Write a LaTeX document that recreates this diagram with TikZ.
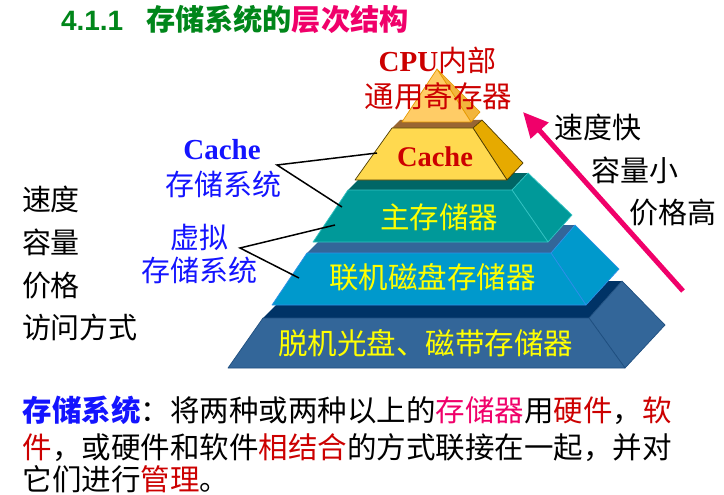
\documentclass[tikz,border=0pt]{standalone}
\usepackage{fontspec}
\newfontfamily\cjk{Noto Sans CJK SC}
\newfontfamily\tms{Liberation Serif}
\newfontfamily\arl{Liberation Sans}
\usetikzlibrary{arrows.meta}
\definecolor{tgreen}{HTML}{00861A}
\definecolor{tpink}{HTML}{F0006A}
\definecolor{tred}{HTML}{CC0000}
\definecolor{tblue}{HTML}{1414FF}
\definecolor{lyel}{HTML}{FFFF00}
\definecolor{lAfront}{HTML}{336699}
\definecolor{lAtop}{HTML}{003366}
\definecolor{lAedge}{HTML}{1F4F80}
\definecolor{lBfront}{HTML}{0099CC}
\definecolor{lBtop}{HTML}{336699}
\definecolor{lBedge}{HTML}{2E8FE8}
\definecolor{lCfront}{HTML}{009999}
\definecolor{lCtop}{HTML}{006666}
\definecolor{lCedge}{HTML}{33C2C2}
\definecolor{lDfront}{HTML}{FFD94F}
\definecolor{lDtop}{HTML}{996633}
\definecolor{lDside}{HTML}{E6AA00}
\definecolor{lDedge}{HTML}{4D3B00}
\definecolor{lEfront}{HTML}{FFCC66}
\definecolor{lEside}{HTML}{F2B53C}
\definecolor{lEedge}{HTML}{E69900}
\begin{document}
\begin{tikzpicture}[x=1pt,y=-1pt,
  txt/.style={inner sep=0pt,outer sep=0pt},
  cjkA/.style={txt,font=\cjk\fontsize{29}{30}\selectfont},
  laytext/.style={txt,anchor=base,text=lyel,font=\cjk\fontsize{29.5}{30}\selectfont},
  conn/.style={black,line width=1.5pt},
  edge/.style={line width=0.7pt,line join=round}]
\useasboundingbox (0,0) rectangle (724,495);
\fill[white] (0,0) rectangle (724,495);

% ---- layer 1 (bottom) ----
\fill[lAtop] (263,318) -- (589,318) -- (622,281) -- (300,281) -- cycle;
\filldraw[fill=lAfront,draw=lAedge,edge] (589,318) -- (622,281) -- (665,325) -- (625,368) -- cycle;
\filldraw[fill=lAfront,draw=lAedge,edge] (228,368) -- (625,368) -- (589,318) -- (263,318) -- cycle;
% ---- layer 2 ----
\fill[lBtop] (307,253) -- (551,253) -- (575,225) -- (335,225) -- cycle;
\filldraw[fill=lBfront,draw=lBedge,edge] (551,253) -- (575,225) -- (619,269) -- (586,305) -- cycle;
\filldraw[fill=lBfront,draw=lBedge,edge] (272,305) -- (586,305) -- (551,253) -- (307,253) -- cycle;
% ---- layer 3 ----
\fill[lCtop] (348,190) -- (512,190) -- (528,173) -- (365,173) -- cycle;
\filldraw[fill=lCfront,draw=lCedge,edge] (512,190) -- (528,173) -- (572,215) -- (548,242) -- cycle;
\filldraw[fill=lCfront,draw=lCedge,edge] (313,242) -- (548,242) -- (512,190) -- (348,190) -- cycle;
% ---- layer 4 ----
\fill[lDtop] (392,128) -- (473,128) -- (482,120) -- (400,120) -- cycle;
\filldraw[fill=lDside,draw=lDedge,edge] (473,128) -- (482,120) -- (523,163) -- (507,180) -- cycle;
\filldraw[fill=lDfront,draw=lDedge,edge] (355,180) -- (507,180) -- (473,128) -- (392,128) -- cycle;
% ---- layer 5 (top) ----
\filldraw[fill=lEside,draw=lEedge,edge] (437,69) -- (480,112) -- (471,122) -- cycle;
\filldraw[fill=lEfront,draw=lEedge,edge] (437,69) -- (402,122) -- (471,122) -- cycle;

% ---- layer texts ----
\node[laytext] (tA) at (425.5,354) {脱机光盘、磁带存储器};
\node[laytext] (tB) at (432.5,288) {联机磁盘存储器};
\node[laytext] (tC) at (439,228) {主存储器};
\node[txt,anchor=base,text=tred,font=\tms\bfseries\fontsize{28.5}{30}\selectfont] (tD) at (435,167) {Cache};
\node[txt,anchor=base,text=tred,font=\fontsize{29}{30}\selectfont] (tE) at (437.5,72) {{\tms\bfseries CPU}{\cjk 内部}};
\node[txt,anchor=base,text=tred,font=\cjk\fontsize{29.5}{30}\selectfont] (tF) at (438.5,107) {通用寄存器};

% ---- title ----
\node[txt,anchor=base west,text=tgreen,font=\arl\bfseries\fontsize{28}{30}\selectfont] (tnum) at (61,30.5) {4.1.1};
\node[txt,anchor=base west,font=\cjk\bfseries\fontsize{29.2}{30}\selectfont] (ttl) at (146,30.5) {\textcolor{tgreen}{存储系统的}\textcolor{tpink}{层次结构}};

% ---- left labels ----
\node[cjkA,anchor=base west] (lsd) at (22,211) {速度};
\node[cjkA,anchor=base west] (lrl) at (22,253) {容量};
\node[cjkA,anchor=base west] (ljg) at (22,296) {价格};
\node[cjkA,anchor=base west] (lfw) at (22,338) {访问方式};

\node[txt,anchor=base,text=tblue,font=\tms\bfseries\fontsize{29}{30}\selectfont] (bcache) at (222,160) {Cache};
\node[cjkA,anchor=base,text=tblue] (bcsys) at (223,196) {存储系统};
\node[cjkA,anchor=base,text=tblue] (bvir) at (199.5,248) {虚拟};
\node[cjkA,anchor=base,text=tblue] (bvsys) at (199,281) {存储系统};

% ---- connectors ----
\coordinate (cj) at (277,165);
\coordinate (cA) at (377,153);
\coordinate (cB) at (342,207);
\draw[conn] (cA) -- (cj) -- (cB);
\coordinate (vj) at (240,248);
\coordinate (vA) at (335,225);
\coordinate (vB) at (299,278);
\draw[conn] (vA) -- (vj) -- (vB);

% ---- right arrow and labels ----
\coordinate (as) at (683,291);
\coordinate (ae) at (523,112);
\draw[tpink,line width=5pt,-{Triangle[length=25pt,width=23pt]}] (as) -- (ae);
\node[cjkA,anchor=base] (rsd) at (597.5,139) {速度快};
\node[cjkA,anchor=base] (rrl) at (634.5,181) {容量小};
\node[cjkA,anchor=base] (rjg) at (672.5,223) {价格高};

% ---- bottom text ----
\node[txt,anchor=base west,font=\cjk\fontsize{29.5}{30}\selectfont] (bl1) at (23,421)
  {{\bfseries\color{tblue}存储系统}：将两种或两种以上的\textcolor{tpink}{存储器}用\textcolor{tred}{硬件}，\textcolor{tred}{软}};
\node[txt,anchor=base west,font=\cjk\fontsize{29.5}{30}\selectfont] (bl2) at (23,458)
  {\textcolor{tred}{件}，或硬件和软件\textcolor{tred}{相结合}的方式联接在一起，并对};
\node[txt,anchor=base west,font=\cjk\fontsize{29.5}{30}\selectfont] (bl3) at (23,490)
  {它们进行\textcolor{tred}{管理}。};
\end{tikzpicture}
\end{document}
